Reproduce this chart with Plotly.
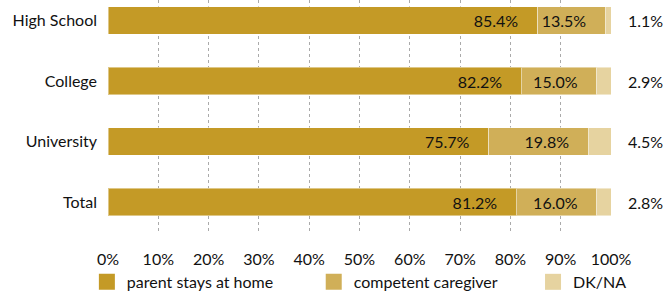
import plotly.graph_objects as go

categories = ["High School", "College", "University", "Total"]
parent_home = [85.4, 82.2, 75.7, 81.2]
caregiver = [13.5, 15.0, 19.8, 16.0]
dkna = [1.1, 2.9, 4.5, 2.8]
x_ticks = [0, 10, 20, 30, 40, 50, 60, 70, 80, 90, 100]

series_names = ["parent stays at home", "competent caregiver", "DK/NA"]
colors = ["#C49A26", "#D0AF58", "#E6D3A0"]
legend_ids = ["legend", "legend2", "legend3"]
FONT = "Lato"
FS = 16

fig = go.Figure()
pad = "\u00a0" * 4
for name, vals, col, show_text in zip(series_names, [parent_home, caregiver, dkna], colors, [True, True, False]):
    fig.add_trace(go.Bar(
        y=categories, x=vals, name=name, orientation="h",
        marker=dict(color=col, line=dict(color="rgba(255,255,255,0.45)", width=1)),
        width=0.45,
        text=[f"{v:.1f}%{pad}" for v in vals] if show_text else None,
        textposition="inside" if show_text else "none",
        insidetextanchor="end",
        textangle=0,
        constraintext="none",
        insidetextfont=dict(family=FONT, size=FS, color="#111"),
        hoverinfo="x+name",
        showlegend=False,
    ))

# legend entries (square swatches), one legend box per series
for name, col, lg in zip(series_names, colors, legend_ids):
    fig.add_trace(go.Scatter(
        x=[None], y=[None], mode="markers", name=name,
        marker=dict(symbol="square", size=17, color=col),
        showlegend=True, legend=lg,
    ))

# connectors and outside labels for DK/NA (placed at the right end of each bar)
END = 100
for cat, v in zip(categories, dkna):
    fig.add_shape(type="line", x0=END, x1=END + 1.4, y0=cat, y1=cat,
                  line=dict(color="#E6D3A0", width=1.5), layer="above")
    fig.add_annotation(x=END, y=cat, text=f"{v:.1f}%", showarrow=False,
                       xanchor="left", xshift=15, font=dict(family=FONT, size=FS, color="#111"))
fig.add_trace(go.Scatter(
    x=[END + 1.4] * len(categories), y=categories, mode="markers",
    marker=dict(color="#E6D3A0", size=5), showlegend=False, hoverinfo="skip",
    cliponaxis=False,
))

leg_common = dict(orientation="h", y=-0.137, xanchor="left", yanchor="top",
                  font=dict(family=FONT, size=FS, color="#111"), itemclick=False)

fig.update_layout(
    barmode="stack",
    width=669, height=292,
    margin=dict(l=108, r=58, t=0, b=59, autoexpand=False),
    plot_bgcolor="white", paper_bgcolor="white",
    font=dict(family=FONT, size=FS, color="#111"),
    legend=dict(x=-0.042, **leg_common),
    legend2=dict(x=0.409, **leg_common),
    legend3=dict(x=0.845, **leg_common),
    xaxis=dict(range=[0, 100], tickvals=x_ticks, ticktext=[f"{t}%" for t in x_ticks],
               showgrid=True, gridcolor="#aaaaaa", griddash="dot", gridwidth=1,
               zeroline=False, showline=False, ticks="", ticklabelstandoff=15,
               automargin=False,
               tickfont=dict(family=FONT, size=FS, color="#111")),
    yaxis=dict(categoryorder="array", categoryarray=categories,
               range=[3.512, -0.339], showgrid=False, zeroline=False, showline=False,
               ticks="", ticklabelstandoff=10, automargin=False,
               tickfont=dict(family=FONT, size=FS, color="#111")),
)

fig.write_html("out.html", config={"displayModeBar": False},
               post_script="document.body.style.margin='0';document.body.style.overflow='hidden';")
